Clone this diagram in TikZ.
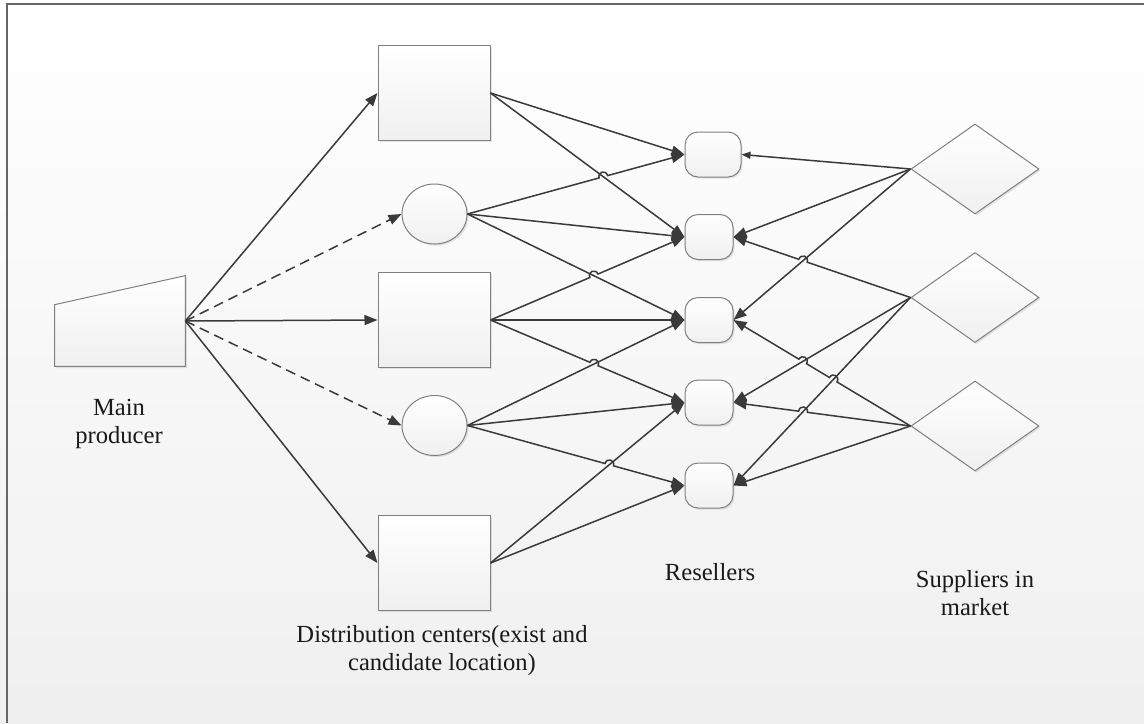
\documentclass[tikz,border=0pt]{standalone}
\usepackage{fontspec}
\setmainfont{Liberation Serif}
\usepackage{tikz}
\usetikzlibrary{positioning,arrows.meta,shapes.geometric,calc,shadows}

\definecolor{linkgray}{HTML}{3A3A3A}
\definecolor{edgegray}{HTML}{808080}
\definecolor{textgray}{HTML}{1A1A1A}

% line jump over a crossing point #1 on the way from #2 to #3, bump side #4
\newcommand\hop[4]{ -- ($(#1)!2.2pt!(#2)$)
  .. controls ($(#1)!2.2pt!(#2)!3.2pt!#4:(#1)$) and ($(#1)!2.2pt!(#3)!3.2pt!#4:(#3)$)
  .. ($(#1)!2.2pt!(#3)$) }

\tikzset{
  unit/.style={draw=edgegray, line width=0.5pt, top color=white, bottom color=black!6,
    drop shadow={shadow xshift=0.8pt, shadow yshift=-0.8pt, opacity=0.2}, inner sep=0pt},
  depot/.style={unit, rectangle, minimum width=56pt, minimum height=47.5pt},
  cand/.style={unit, ellipse, minimum width=32.5pt, minimum height=30pt},
  reseller/.style={unit, rectangle, rounded corners=6.5pt, minimum width=24pt, minimum height=22.5pt},
  supplier/.style={unit, diamond, minimum width=64pt, minimum height=45pt},
  link/.style={draw=linkgray, line width=0.75pt, -{Triangle[length=6.5pt,width=5pt]}},
  candlink/.style={link, dash pattern=on 5pt off 3pt},
  lbl/.style={text=textgray, font=\fontsize{12.3}{14}\selectfont, align=center}
}

\begin{document}
\begin{tikzpicture}[x=0.5pt, y=-0.5pt]
  % Background and frame
  \useasboundingbox (0,0) rectangle (1144,723);
  \fill[top color=white, bottom color=black!6] (0,0) rectangle (1144,723);
  \draw[black!60, line width=0.8pt] (7,723) -- (7,4) -- (1144,4);

  % Main producer
  \node[rectangle, minimum width=65pt, minimum height=45pt, inner sep=0pt] (prod) at (120,321) {};
  \path[unit] (prod.south west) -- (prod.south east) -- (prod.north east)
    -- ($(prod.north west)!0.32!(prod.south west)$) -- cycle;

  % Distribution centers
  \node[depot] (b1) at (434,93) {};
  \node[cand]  (c1) at (434.5,214) {};
  \node[depot] (b2) at (434,320) {};
  \node[cand]  (c2) at (434.5,425.5) {};
  \node[depot] (b3) at (434,563) {};

  % Resellers
  \node[reseller, minimum width=28pt] (r1) at (713,154.5) {};
  \node[reseller] (r2) at (709,237) {};
  \node[reseller] (r3) at (709,320) {};
  \node[reseller] (r4) at (709,402.5) {};
  \node[reseller] (r5) at (709,485.5) {};

  % Suppliers in market
  \node[supplier] (s1) at (975,169) {};
  \node[supplier] (s2) at (975,297.5) {};
  \node[supplier] (s3) at (975,426) {};

  % Labels
  \node[lbl] (prodlbl) at (119,424) {Main\\producer};
  \node[lbl] (dclbl) at (442,651) {Distribution centers(exist and\\candidate location)};
  \node[lbl] (reslbl) at (710,572) {Resellers};
  \node[lbl] (suplbl) at (975,593) {Suppliers in\\market};

  % Producer to distribution centers
  \draw[link] (prod.east) -- (b1.west);
  \draw[candlink] (prod.east) -- (c1.west);
  \draw[link] (prod.east) -- (b2.west);
  \draw[candlink] (prod.east) -- (c2.west);
  \draw[link] (prod.east) -- (b3.west);

  % Crossing points
  \coordinate (x1) at (intersection of c1.east--r1.west and b1.east--r2.west);
  \coordinate (x2) at (intersection of b2.east--r2.west and c1.east--r3.west);
  \coordinate (x3) at (intersection of b2.east--r4.west and c2.east--r3.west);
  \coordinate (x4) at (intersection of c2.east--r5.west and b3.east--r4.west);
  \coordinate (x5) at (intersection of s2.west--r2.east and s1.west--r3.east);
  \coordinate (x6) at (intersection of s3.west--r3.east and s2.west--r5.east);
  \coordinate (x7) at (intersection of s3.west--r3.east and s2.west--r4.east);
  \coordinate (x8) at (intersection of s3.west--r4.east and s2.west--r5.east);

  % Distribution centers to resellers
  \draw[link] (b1.east) -- (r1.west);
  \draw[link] (b1.east) -- (r2.west);
  \draw[link] (c1.east) \hop{x1}{c1.east}{r1.west}{90} -- (r1.west);
  \draw[link] (c1.east) -- (r2.west);
  \draw[link] (c1.east) -- (r3.west);
  \draw[link] (b2.east) \hop{x2}{b2.east}{r2.west}{90} -- (r2.west);
  \draw[link] (b2.east) -- (r3.west);
  \draw[link] (b2.east) \hop{x3}{b2.east}{r4.west}{90} -- (r4.west);
  \draw[link] (c2.east) -- (r3.west);
  \draw[link] (c2.east) -- (r4.west);
  \draw[link] (c2.east) \hop{x4}{c2.east}{r5.west}{90} -- (r5.west);
  \draw[link] (b3.east) -- (r4.west);
  \draw[link] (b3.east) -- (r5.west);

  % Suppliers to resellers
  \draw[link, -{Triangle[length=4.5pt,width=3.5pt]}] (s1.west) -- (r1.east);
  \draw[link] (s1.west) -- (r2.east);
  \draw[link] (s1.west) -- (r3.east);
  \draw[link] (s2.west) \hop{x5}{s2.west}{r2.east}{-90} -- (r2.east);
  \draw[link] (s2.west) -- (r4.east);
  \draw[link] (s2.west) -- (r5.east);
  \draw[link] (s3.west) \hop{x6}{s3.west}{r3.east}{-90} \hop{x7}{s3.west}{r3.east}{-90} -- (r3.east);
  \draw[link] (s3.west) \hop{x8}{s3.west}{r4.east}{-90} -- (r4.east);
  \draw[link] (s3.west) -- (r5.east);
\end{tikzpicture}
\end{document}
